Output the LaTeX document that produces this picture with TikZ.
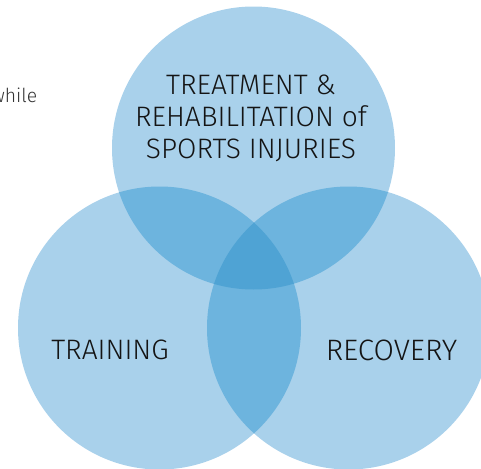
\documentclass[tikz,border=0pt]{standalone}
\usepackage{fontspec}
\setmainfont{Fira Sans Light}
\usetikzlibrary{positioning}
\definecolor{lightblue}{HTML}{A9D1EB}
\definecolor{midblue}{HTML}{6DB4DE}
\definecolor{deepblue}{HTML}{4FA3D4}
\def\rad{141.5}

\begin{document}
\begin{tikzpicture}[x=0.02cm, y=0.02cm,
    label/.style={text=black!92, font=\fontsize{16}{18.2}\selectfont, align=center},
    aside/.style={text=black!80, font=\fontsize{11}{13}\selectfont}]
      \useasboundingbox (0,0) rectangle (481,468);
      \clip (0,0) rectangle (481,468);
      \coordinate (top) at (253.5,320);
      \coordinate (left) at (159.5,140);
      \coordinate (right) at (348.5,140);

      % single circles
      \fill[lightblue] (top) circle [radius=\rad];
      \fill[lightblue] (left) circle [radius=\rad];
      \fill[lightblue] (right) circle [radius=\rad];

      % pairwise overlaps
      \begin{scope}
        \clip (top) circle [radius=\rad];
        \fill[midblue] (left) circle [radius=\rad];
        \fill[midblue] (right) circle [radius=\rad];
      \end{scope}
      \begin{scope}
        \clip (left) circle [radius=\rad];
        \fill[midblue] (right) circle [radius=\rad];
      \end{scope}

      % centre
      \begin{scope}
        \clip (top) circle [radius=\rad];
        \clip (left) circle [radius=\rad];
        \fill[deepblue] (right) circle [radius=\rad];
      \end{scope}

      \node[label] (treatment) at (251,350) {TREATMENT \&\\REHABILITATION of\\SPORTS INJURIES};
      \node[label] (training) at (110,118) {TRAINING};
      \node[label, font=\fontsize{16.8}{18.2}\selectfont] (recovery) at (391.5,118) {RECOVERY};
      \node[aside, anchor=base east, inner sep=0pt] (while) at (37.5,366) {while};
    \end{tikzpicture}
\end{document}
